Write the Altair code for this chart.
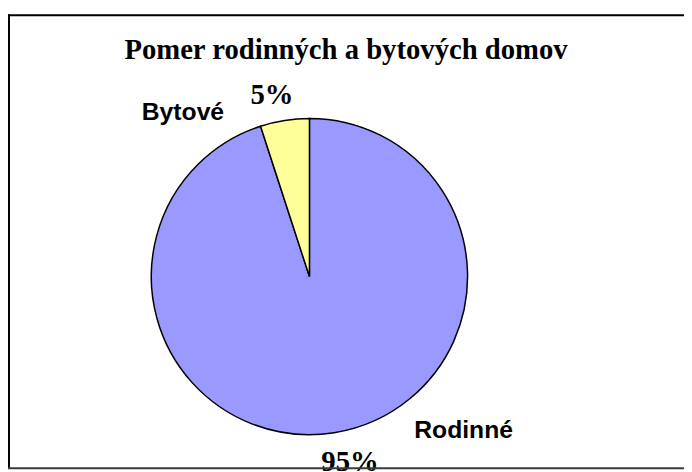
import altair as alt
import pandas as pd

# ---- data ----
categories = ["Rodinné", "Bytové"]
values = [95, 5]
order = [1, 2]
colors = ["#9999FF", "#FFFF99"]
title_text = "Pomer rodinných a bytových domov"

df = pd.DataFrame({"category": categories, "value": values, "order": order})

W, H = 684, 464
CX, CY, R = 305, 269, 160

base = alt.Chart(df)

pie = base.mark_arc(radius=R, stroke="black", strokeWidth=1.5).encode(
    theta=alt.Theta("value:Q", stack=True),
    order=alt.Order("order:Q"),
    color=alt.Color("category:N", scale=alt.Scale(domain=categories, range=colors), legend=None),
    x=alt.value(CX),
    y=alt.value(CY),
)

pct = base.transform_joinaggregate(total="sum(value)").transform_calculate(
    pct="format(datum.value / datum.total, '.0%')"
)

def cat_label(cat, x, y):
    return base.transform_filter(alt.datum.category == cat).mark_text(
        font="Liberation Sans", fontWeight="bold", fontSize=25, align="center",
        baseline="alphabetic", color="black"
    ).encode(text="category:N", x=alt.value(x), y=alt.value(y))

def pct_label(cat, x, y):
    return pct.transform_filter(alt.datum.category == cat).mark_text(
        font="Liberation Serif", fontWeight="bold", fontSize=29, align="center",
        baseline="alphabetic", color="black"
    ).encode(text="pct:N", x=alt.value(x), y=alt.value(y))

title = alt.Chart(pd.DataFrame({"t": [title_text]})).mark_text(
    font="Liberation Serif", fontWeight="bold", fontSize=29, align="center",
    baseline="alphabetic", color="black"
).encode(text="t:N", x=alt.value(342), y=alt.value(49))

one = alt.Chart(pd.DataFrame({"a": [0]}))
frame_top = one.mark_rule(color="black", strokeWidth=2).encode(
    x=alt.value(0), x2=alt.value(W + 10), y=alt.value(4.5))
frame_left = one.mark_rule(color="black", strokeWidth=2).encode(
    x=alt.value(1), y=alt.value(3.5), y2=alt.value(463))
frame_bottom = one.mark_rule(color="#3a3a3a", strokeWidth=2).encode(
    x=alt.value(0), x2=alt.value(W + 10), y=alt.value(463))

chart = alt.layer(
    pie,
    title,
    cat_label("Bytové", 177, 111),
    pct_label("Bytové", 267, 94),
    cat_label("Rodinné", 461, 432),
    pct_label("Rodinné", 346, 466),
    frame_top, frame_left, frame_bottom,
).properties(
    width=W, height=H,
    autosize=alt.AutoSizeParams(type="none"),
    padding=0,
    background="white",
).configure_view(stroke=None)

chart.save("out.html", embed_options={"renderer": "svg", "actions": False})
